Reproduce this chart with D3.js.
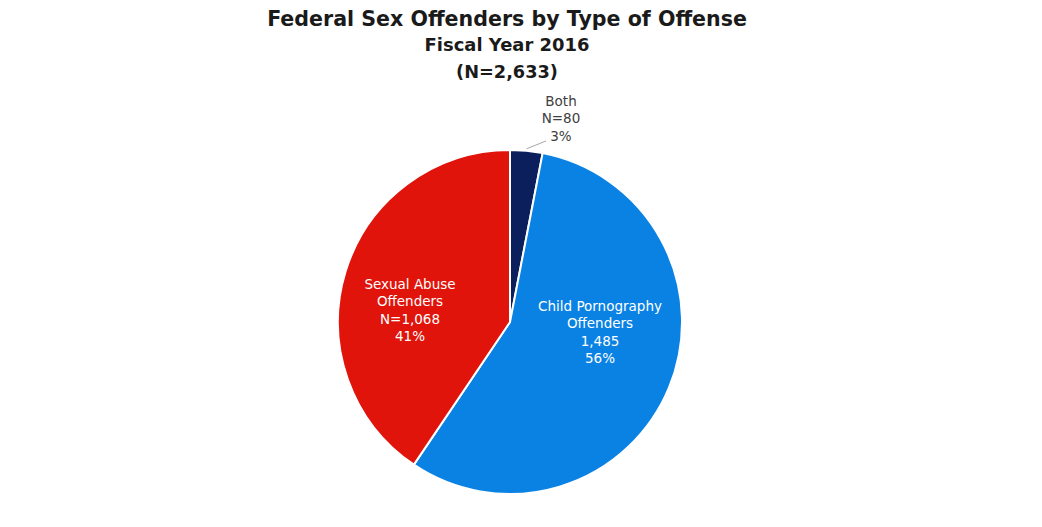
<!DOCTYPE html>
<html><head><meta charset="utf-8">
<script src="https://cdn.jsdelivr.net/npm/d3@7"></script>
<style>body{margin:0;background:#fff}svg{display:block}</style>
</head><body>
<svg id="c" width="1042" height="527"></svg>
<script>
const categories = ["Both", "Child Pornography Offenders", "Sexual Abuse Offenders"];
const values = [80, 1485, 1068];
const labelLines = [
  ["Both", "N=80", "3%"],
  ["Child Pornography", "Offenders", "1,485", "56%"],
  ["Sexual Abuse", "Offenders", "N=1,068", "41%"]
];
const colors = ["#0b1f5c", "#0a82e4", "#e0140b"];
const titleLines = ["Federal Sex Offenders by Type of Offense", "Fiscal Year 2016", "(N=2,633)"];

const svg = d3.select("#c");
const font = "'DejaVu Sans', sans-serif";
const cx = 510, cy = 322, R = 172;

// titles
const tSizes = [22, 18, 18], tY = [26, 51, 78], tW = [480, 165, 102];
titleLines.forEach((t, i) => {
  const el = svg.append("text").attr("x", 507).attr("y", tY[i])
    .attr("text-anchor", "middle").attr("font-family", font).attr("font-weight", "bold")
    .attr("font-size", tSizes[i]).attr("fill", "#1a1a1a").text(t);
  const w = el.node().getComputedTextLength();
  el.attr("font-size", tSizes[i] * tW[i] / w);
});

const pie = d3.pie().sort(null).value(d => d);
const arcs = pie(values);
const arc = d3.arc().innerRadius(0).outerRadius(R);
const g = svg.append("g").attr("transform", `translate(${cx},${cy})`);
g.selectAll("path").data(arcs).join("path")
  .attr("d", arc).attr("fill", (d, i) => colors[i])
  .attr("stroke", "#fff").attr("stroke-width", 2).attr("stroke-linejoin", "round");

// labels
const lblPos = [[561, 101], [600, 306], [410, 284]];
const lblColor = ["#404040", "#fff", "#fff"];
labelLines.forEach((lines, i) => {
  const t = svg.append("text").attr("text-anchor", "middle")
    .attr("font-family", font).attr("font-size", 13.5).attr("fill", lblColor[i]);
  lines.forEach((l, j) => {
    t.append("tspan").attr("x", lblPos[i][0]).attr("y", lblPos[i][1] + j * 17.3 + 5).text(l);
  });
});
// leader line for "Both"
const p1 = d3.arc().innerRadius(R + 2).outerRadius(R + 2).centroid(arcs[0]);
svg.append("path")
  .attr("d", `M${cx + p1[0]},${cy + p1[1]} L${546},${141}`)
  .attr("stroke", "#a6a6a6").attr("fill", "none").attr("stroke-width", 1);
</script>
</body></html>
